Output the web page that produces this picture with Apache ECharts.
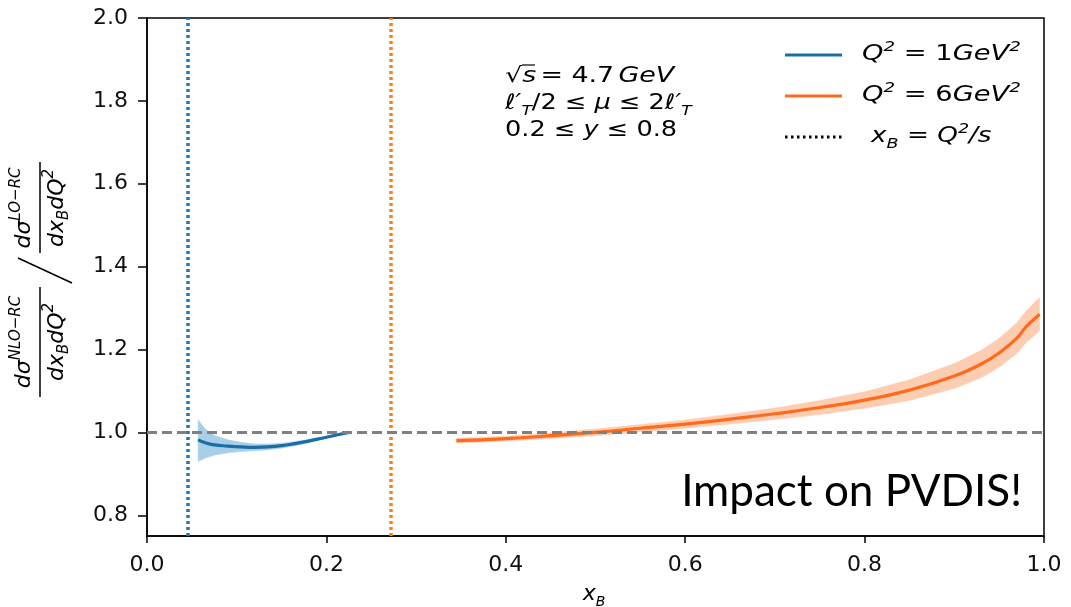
<!DOCTYPE html>
<html><head><meta charset="utf-8">
<script src="https://cdn.jsdelivr.net/npm/echarts@6/dist/echarts.min.js"></script>
<style>html,body{margin:0;padding:0;background:#fff}#c{width:1071px;height:607px}</style>
</head><body><div id="c"></div>
<script>
// ---- data ----
const xTicks = [0.0, 0.2, 0.4, 0.6, 0.8, 1.0];
const yTicks = [0.8, 1.0, 1.2, 1.4, 1.6, 1.8, 2.0];
const seriesNames = ['Q² = 1GeV²', 'Q² = 6GeV²'];
const xBLines = [0.045, 0.272];      // x_B = Q²/s for the two Q²
const refLine = 1.0;

const blueX  = [0.057, 0.065, 0.075, 0.090, 0.105, 0.120, 0.135, 0.150, 0.165, 0.180, 0.195, 0.210, 0.225];
const blueY  = [0.982, 0.975, 0.970, 0.967, 0.965, 0.964, 0.965, 0.968, 0.973, 0.979, 0.986, 0.993, 1.000];
const blueLo = [0.930, 0.938, 0.945, 0.951, 0.954, 0.956, 0.958, 0.962, 0.968, 0.975, 0.983, 0.991, 0.999];
const blueHi = [1.030, 1.008, 0.993, 0.982, 0.976, 0.972, 0.972, 0.974, 0.978, 0.983, 0.989, 0.995, 1.001];

const orangeX  = [0.345, 0.40, 0.45, 0.50, 0.55, 0.60, 0.65, 0.70, 0.75, 0.80, 0.85, 0.90, 0.93, 0.95, 0.97, 0.98, 0.99, 0.995];
const orangeY  = [0.980, 0.985, 0.992, 1.000, 1.010, 1.020, 1.032, 1.045, 1.060, 1.078, 1.102, 1.136, 1.165, 1.192, 1.228, 1.255, 1.275, 1.285];
const orangeLo = [0.974, 0.979, 0.985, 0.992, 1.001, 1.010, 1.020, 1.031, 1.043, 1.058, 1.077, 1.106, 1.132, 1.157, 1.191, 1.217, 1.235, 1.245];
const orangeHi = [0.986, 0.991, 0.999, 1.008, 1.019, 1.030, 1.044, 1.059, 1.077, 1.098, 1.127, 1.166, 1.198, 1.227, 1.265, 1.293, 1.315, 1.325];

// ---- styles ----
const C_BLUE = '#1a6ea8', C_BLUE_V = '#1f77b4', C_BLUE_BAND = '#a9cfe6';
const C_OR = '#ff6a1c', C_OR_V = '#ff7f0e', C_OR_BAND = '#fdcdb2';
const MF = 'DejaVu Sans';

const pairs = (xs, ys) => xs.map((x, i) => [x, ys[i]]);
const triples = (xs, lo, hi) => xs.map((x, i) => [x, lo[i], hi[i]]);

function makeBand(name, xs, lo, hi, color) {
  const data = triples(xs, lo, hi);
  return {
    type: 'custom', name: name, data: data, silent: true, z: 1, clip: true,
    encode: {x: 0, y: [1, 2]},
    renderItem: function (params, api) {
      if (params.dataIndex !== 0) return null;
      const pts = [];
      for (let i = 0; i < data.length; i++) pts.push(api.coord([data[i][0], data[i][2]]));
      for (let i = data.length - 1; i >= 0; i--) pts.push(api.coord([data[i][0], data[i][1]]));
      return {type: 'polygon', shape: {points: pts}, style: {fill: color, stroke: color, lineWidth: 0.5}};
    }
  };
}

function mathRich(size, sub) {
  return {
    m: {fontSize: size, fontFamily: MF, fontStyle: 'italic', color: '#000', lineHeight: size + 8, verticalAlign: 'middle'},
    r: {fontSize: size, fontFamily: MF, color: '#000', lineHeight: size + 8, verticalAlign: 'middle'},
    s: {fontSize: sub, fontFamily: MF, fontStyle: 'italic', color: '#000', lineHeight: sub, verticalAlign: 'top'},
    b: {fontSize: sub, fontFamily: MF, fontStyle: 'italic', color: '#000', lineHeight: sub, verticalAlign: 'bottom'}
  };
}

const chart = echarts.init(document.getElementById('c'), null, {renderer: 'canvas'});

const ylabRich = mathRich(22, 15);
const annRich = mathRich(21, 14);
const legRich = mathRich(21, 14);

const option = {
  backgroundColor: '#fff',
  animation: false,
  grid: {left: 147, right: 27, top: 18, bottom: 71, show: true, borderColor: '#000', borderWidth: 1.5, backgroundColor: 'transparent'},
  xAxis: {
    type: 'value', min: xTicks[0], max: xTicks[xTicks.length - 1], interval: 0.2,
    axisLine: {show: true, onZero: false, lineStyle: {color: '#000', width: 1.5}},
    axisTick: {show: true, length: 7, lineStyle: {color: '#000', width: 1.5}},
    axisLabel: {margin: 18, fontSize: 22, fontFamily: MF, color: '#111', formatter: v => v.toFixed(1)},
    splitLine: {show: false}
  },
  yAxis: {
    type: 'value', min: 0.75, max: 2.0,
    axisLine: {show: true, onZero: false, lineStyle: {color: '#000', width: 1.5}},
    axisTick: {show: true, length: 9, customValues: yTicks, lineStyle: {color: '#000', width: 1.5}},
    axisLabel: {margin: 19, fontSize: 22, fontFamily: MF, color: '#111', customValues: yTicks, formatter: v => v.toFixed(1)},
    splitLine: {show: false}
  },
  series: [
    makeBand('bandB', blueX, blueLo, blueHi, C_BLUE_BAND),
    makeBand('bandO', orangeX, orangeLo, orangeHi, C_OR_BAND),
    {type: 'line', name: seriesNames[0], data: pairs(blueX, blueY), symbol: 'none', smooth: true,
     lineStyle: {color: C_BLUE, width: 3.2}, z: 3,
     markLine: {silent: true, precision: 6, symbol: ['none', 'none'], label: {show: false},
       lineStyle: {color: C_BLUE_V, type: [3, 3], width: 3.5}, data: [{xAxis: xBLines[0]}]}},
    {type: 'line', name: seriesNames[1], data: pairs(orangeX, orangeY), symbol: 'none', smooth: true,
     lineStyle: {color: C_OR, width: 3.2}, z: 3,
     markLine: {silent: true, precision: 6, symbol: ['none', 'none'], label: {show: false},
       lineStyle: {color: C_OR_V, type: [3, 3], width: 3.5}, data: [{xAxis: xBLines[1]}]}},
    {type: 'line', name: 'ref', data: [], symbol: 'none', z: 4,
     markLine: {silent: true, precision: 6, symbol: ['none', 'none'], label: {show: false}, z: 5,
       lineStyle: {color: '#808080', type: [10, 5], width: 3}, data: [{yAxis: refLine}]}}
  ],
  graphic: [
    // y-axis label: (dσ^{NLO-RC}/dx_B dQ²) / (dσ^{LO-RC}/dx_B dQ²)
    {type: 'group', x: 40, y: 268, rotation: Math.PI / 2, children: [
      {type: 'line', shape: {x1: -129, y1: 0, x2: -19, y2: 0}, style: {stroke: '#000', lineWidth: 1.5}},
      {type: 'text', x: -74, y: -1, style: {text: '{m|dσ}{s|NLO−RC}', rich: ylabRich, align: 'center', verticalAlign: 'bottom'}},
      {type: 'text', x: -74, y: 2, style: {text: '{m|dx}{b|B}{m|dQ}{s|2}', rich: ylabRich, align: 'center', verticalAlign: 'top'}},
      {type: 'line', shape: {x1: -15, y1: 32, x2: 10, y2: -22}, style: {stroke: '#000', lineWidth: 1.5}},
      {type: 'line', shape: {x1: 15, y1: 0, x2: 106, y2: 0}, style: {stroke: '#000', lineWidth: 1.5}},
      {type: 'text', x: 60, y: -1, style: {text: '{m|dσ}{s|LO−RC}', rich: ylabRich, align: 'center', verticalAlign: 'bottom'}},
      {type: 'text', x: 60, y: 2, style: {text: '{m|dx}{b|B}{m|dQ}{s|2}', rich: ylabRich, align: 'center', verticalAlign: 'top'}}
    ]},
    // x-axis label
    {type: 'text', x: 594, y: 594, style: {text: '{m|x}{b|B}', rich: mathRich(22, 14), align: 'center', verticalAlign: 'middle'}},
    // annotation
    {type: 'text', x: 505, y: 77, scaleX: 1.28, style: {text: '{r|√}{m|s} {r|= 4.7} {m|GeV}', rich: annRich, align: 'left', verticalAlign: 'middle'}},
    {type: 'line', shape: {x1: 522, y1: 65, x2: 535, y2: 65}, style: {stroke: '#000', lineWidth: 1.2}},
    {type: 'text', x: 505, y: 104, scaleX: 1.22, style: {text: '{m|ℓ′}{b|T}{r|/2 ≤ }{m|μ}{r| ≤ 2}{m|ℓ′}{b|T}', rich: annRich, align: 'left', verticalAlign: 'middle'}},
    {type: 'text', x: 505, y: 131, scaleX: 1.22, style: {text: '{r|0.2 ≤ }{m|y}{r| ≤ 0.8}', rich: annRich, align: 'left', verticalAlign: 'middle'}},
    // legend
    {type: 'line', shape: {x1: 785, y1: 55, x2: 842, y2: 55}, style: {stroke: C_BLUE, lineWidth: 3}},
    {type: 'text', x: 862, y: 55, scaleX: 1.3, style: {text: '{m|Q}{s|2}{r| = 1}{m|GeV}{s|2}', rich: legRich, align: 'left', verticalAlign: 'middle'}},
    {type: 'line', shape: {x1: 785, y1: 96, x2: 842, y2: 96}, style: {stroke: C_OR, lineWidth: 3}},
    {type: 'text', x: 862, y: 96, scaleX: 1.3, style: {text: '{m|Q}{s|2}{r| = 6}{m|GeV}{s|2}', rich: legRich, align: 'left', verticalAlign: 'middle'}},
    {type: 'line', shape: {x1: 785, y1: 137, x2: 842, y2: 137}, style: {stroke: '#000', lineWidth: 3, lineDash: [2.5, 3.5]}},
    {type: 'text', x: 871, y: 137, scaleX: 1.25, style: {text: '{m|x}{b|B}{r| = }{m|Q}{s|2}{m|/s}', rich: legRich, align: 'left', verticalAlign: 'middle'}},
    // overlay note
    {type: 'text', x: 1022, y: 492, style: {text: 'Impact on PVDIS!', font: '44px Lato', fill: '#000', align: 'right', verticalAlign: 'middle'}}
  ]
};
chart.setOption(option);
</script></body></html>
